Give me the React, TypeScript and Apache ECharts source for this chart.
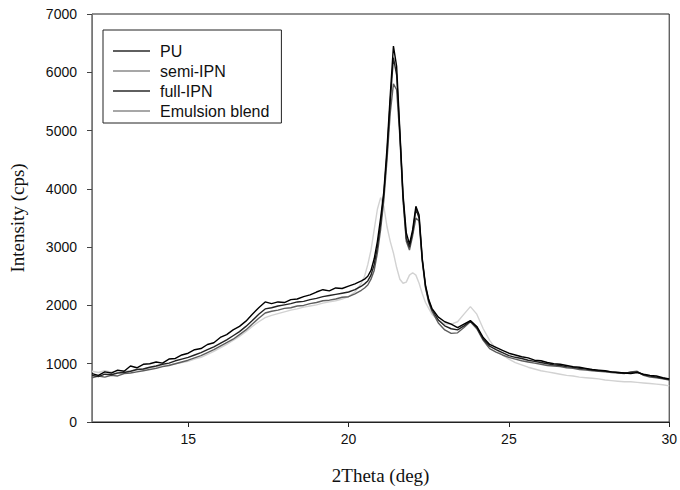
import React, { useEffect, useRef } from "react";
import * as echarts from "echarts";

const xs = [
  12.0, 12.2, 12.4, 12.6, 12.8, 13.0, 13.2, 13.4, 13.6, 13.8, 14.0, 14.2, 14.4, 14.6, 14.8,
  15.0, 15.2, 15.4, 15.6, 15.8, 16.0, 16.2, 16.4, 16.6, 16.8, 17.0, 17.2, 17.4, 17.6, 17.8,
  18.0, 18.2, 18.4, 18.6, 18.8, 19.0, 19.2, 19.4, 19.6, 19.8, 20.0, 20.2, 20.4,
  20.5, 20.6, 20.7, 20.8, 20.9, 21.0, 21.1, 21.2, 21.3, 21.4, 21.5, 21.6, 21.7, 21.8, 21.9,
  22.0, 22.1, 22.2, 22.3, 22.4, 22.5, 22.6,
  22.8, 23.0, 23.2, 23.4, 23.6, 23.8, 24.0, 24.2, 24.4, 24.6, 24.8, 25.0, 25.2, 25.4, 25.6,
  25.8, 26.0, 26.2, 26.4, 26.6, 26.8, 27.0, 27.2, 27.4, 27.6, 27.8, 28.0, 28.2, 28.4, 28.6,
  28.8, 29.0, 29.2, 29.4, 29.6, 29.8, 30.0,
];

const puValues = [
  830, 800, 860, 840, 890, 870, 960, 930, 990, 1000, 1030, 1010, 1080, 1090, 1150,
  1180, 1240, 1260, 1330, 1360, 1450, 1500, 1580, 1640, 1730, 1850, 1960, 2060, 2030, 2060,
  2050, 2100, 2110, 2150, 2180, 2230, 2270, 2250, 2300, 2290, 2330, 2370, 2420,
  2450, 2500, 2600, 2800, 3100, 3500, 3950, 4700, 5600, 6450, 6100, 5000, 3900, 3250, 3050,
  3300, 3700, 3550, 2800, 2350, 2100, 1950,
  1800, 1720, 1680, 1620, 1680, 1740, 1640, 1450, 1330, 1280, 1230, 1180, 1150, 1120, 1100,
  1060, 1050, 1020, 1000, 990, 970, 950, 940, 920, 900, 890, 880, 860, 850, 840,
  830, 850, 820, 800, 790, 760, 740,
];

const semiIpnValues = [
  760, 790, 770, 800, 790, 830, 840, 860, 880, 900, 920, 950, 970, 1000, 1030,
  1060, 1100, 1140, 1190, 1240, 1300, 1360, 1420, 1500, 1580, 1680, 1780, 1870, 1900, 1920,
  1950, 1960, 1990, 2000, 2030, 2050, 2080, 2090, 2110, 2140, 2150, 2200, 2260,
  2300, 2350, 2450, 2600, 2900, 3300, 3800, 4500, 5300, 5800, 5700, 4900, 3800, 3100, 2950,
  3200, 3500, 3450, 2750, 2300, 2050, 1900,
  1700, 1580, 1520, 1530, 1620, 1720, 1600, 1400, 1260, 1200, 1150, 1110, 1080, 1050, 1030,
  1010, 990, 970, 960, 950, 930, 920, 900, 890, 880, 870, 860, 850, 840, 830,
  860, 870, 800, 770, 760, 740, 720,
];

const fullIpnValues = [
  800, 780, 820, 810, 840, 850, 870, 900, 910, 940, 960, 990, 1010, 1050, 1080,
  1110, 1150, 1190, 1240, 1290, 1350, 1410, 1480, 1550, 1640, 1740, 1850, 1940, 1960, 1990,
  2010, 2030, 2060, 2070, 2100, 2120, 2150, 2170, 2190, 2210, 2230, 2270, 2330,
  2370, 2420, 2520, 2700, 3000, 3400, 3900, 4600, 5500, 6250, 5950, 4950, 3850, 3150, 3000,
  3250, 3650, 3500, 2780, 2320, 2080, 1930,
  1750, 1650, 1600, 1580, 1650, 1730, 1620, 1420, 1300, 1240, 1190, 1140, 1110, 1090, 1060,
  1040, 1020, 1000, 980, 970, 950, 940, 920, 910, 890, 880, 870, 860, 850, 840,
  850, 860, 810, 790, 770, 750, 730,
];

const emulsionValues = [
  870, 850, 880, 860, 870, 880, 870, 900, 910, 930, 940, 960, 980, 1000, 1020,
  1040, 1080, 1110, 1160, 1210, 1270, 1330, 1400, 1470, 1550, 1640, 1720, 1790, 1830, 1860,
  1890, 1920, 1940, 1970, 1990, 2010, 2040, 2060, 2080, 2110, 2150, 2230, 2380,
  2500, 2700, 2950, 3300, 3650, 3850, 3700, 3350, 3100, 2900, 2650, 2450, 2380, 2400, 2520,
  2560, 2520, 2380, 2200, 2050, 1950, 1850,
  1750, 1680, 1680, 1720, 1850, 1980, 1850, 1600, 1400, 1250, 1150, 1080, 1020, 980, 940,
  910, 880, 860, 840, 820, 800, 790, 770, 760, 750, 740, 720, 710, 700, 690,
  690, 680, 670, 660, 650, 640, 620,
];

const seriesNames = ["PU", "semi-IPN", "full-IPN", "Emulsion blend"];
const xTickValues = [15, 20, 25, 30];

const pairs = (ys: number[]) => xs.map((x, i) => [x, ys[i]]);

export default function App() {
  const ref = useRef<HTMLDivElement>(null);
  useEffect(() => {
    if (!ref.current) return;
    const chart = echarts.init(ref.current, null, { renderer: "svg" });
    const sans = "'Liberation Sans', Arial, sans-serif";
    const serif = "'Liberation Serif', 'Times New Roman', serif";
    const mk = (name: string, data: number[], color: string, z: number) => ({
      name,
      type: "line",
      data: pairs(data),
      symbol: "none",
      z,
      lineStyle: { color, width: 1.4 },
      itemStyle: { color },
    });
    chart.setOption({
      animation: false,
      backgroundColor: "#ffffff",
      grid: {
        left: 88,
        right: 10,
        top: 14,
        bottom: 68,
        show: true,
        borderColor: "#222",
        borderWidth: 1,
        backgroundColor: "transparent",
      },
      legend: {
        orient: "vertical",
        left: 103,
        top: 30,
        padding: [12, 12, 3, 10],
        itemGap: 2,
        itemWidth: 37,
        itemHeight: 1.5,
        icon: "rect",
        borderColor: "#222",
        borderWidth: 1,
        textStyle: {
          fontFamily: sans,
          fontSize: 16,
          lineHeight: 18,
          color: "#111",
          padding: [0, 0, 0, 5],
        },
        data: [
          { name: seriesNames[0], itemStyle: { color: "#2a2a2a" } },
          { name: seriesNames[1], itemStyle: { color: "#8a8a8a" } },
          { name: seriesNames[2], itemStyle: { color: "#2a2a2a" } },
          { name: seriesNames[3], itemStyle: { color: "#8a8a8a" } },
        ],
      },
      xAxis: {
        type: "value",
        min: 12,
        max: 30,
        name: "2Theta (deg)",
        nameLocation: "middle",
        nameGap: 44,
        nameTextStyle: { fontFamily: serif, fontSize: 19, color: "#111" },
        splitLine: { show: false },
        axisLine: { onZero: false, lineStyle: { color: "#222", width: 1 } },
        axisTick: { show: true, length: 5, customValues: xTickValues, lineStyle: { color: "#222" } },
        axisLabel: {
          customValues: xTickValues,
          fontFamily: sans,
          fontSize: 14,
          color: "#111",
          margin: 10,
          formatter: (v: number) => String(v),
        },
      },
      yAxis: {
        type: "value",
        min: 0,
        max: 7000,
        interval: 1000,
        name: "Intensity (cps)",
        nameLocation: "middle",
        nameGap: 65,
        nameTextStyle: { fontFamily: serif, fontSize: 19, color: "#111" },
        splitLine: { show: false },
        axisLine: { show: true, lineStyle: { color: "#777", width: 1 } },
        axisTick: { show: true, length: 5, lineStyle: { color: "#444" } },
        axisLabel: {
          fontFamily: sans,
          fontSize: 14,
          color: "#111",
          margin: 15,
          formatter: (v: number) => String(v),
        },
      },
      series: [
        mk(seriesNames[0], puValues, "#000000", 5),
        mk(seriesNames[1], semiIpnValues, "#5e5e5e", 3),
        mk(seriesNames[2], fullIpnValues, "#222222", 4),
        mk(seriesNames[3], emulsionValues, "#d2d2d2", 2),
      ],
    });
    return () => chart.dispose();
  }, []);
  return (
    <div
      ref={ref}
      style={{ position: "fixed", left: 0, top: 0, width: 680, height: 490, background: "#fff" }}
    />
  );
}
